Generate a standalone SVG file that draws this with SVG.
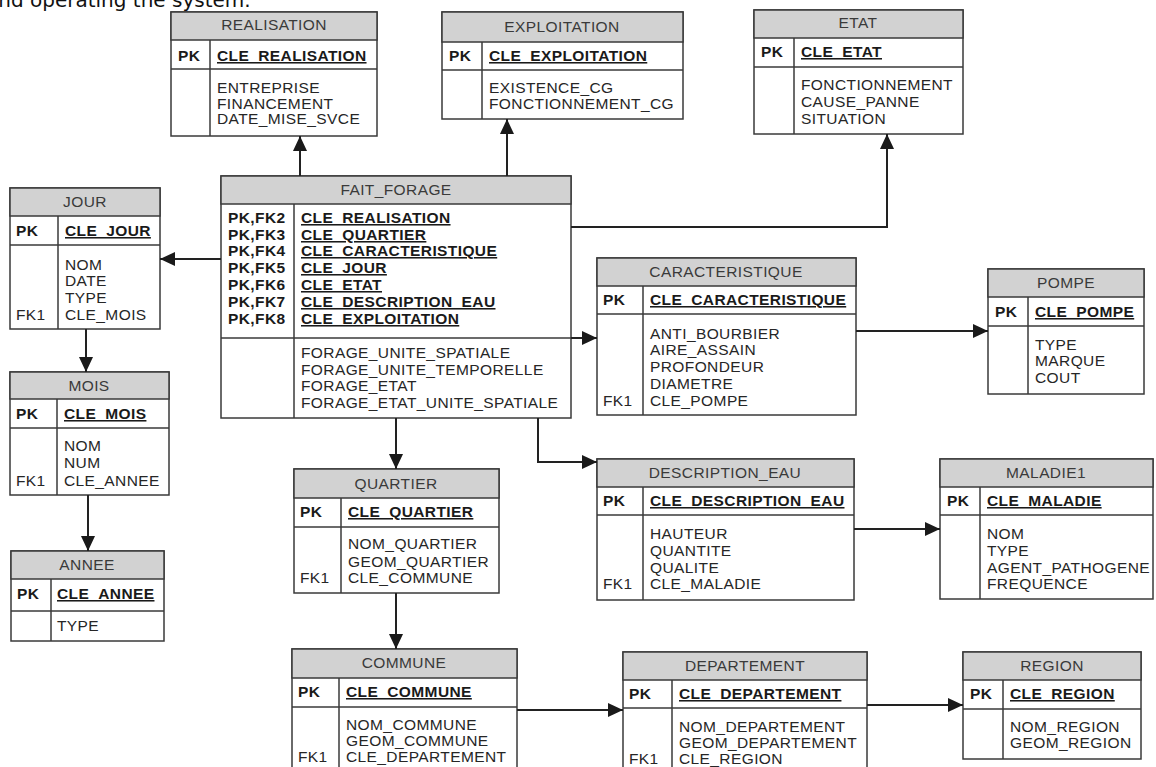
<svg xmlns="http://www.w3.org/2000/svg" width="1156" height="767" viewBox="0 0 1156 767">
<defs>
<style>
.box{fill:#fff;stroke:#3a3a3a;stroke-width:1.5}
.hdr{fill:#d2d2d2;stroke:#3a3a3a;stroke-width:1.5}
.sep{stroke:#3a3a3a;stroke-width:1.5}
.t{font-family:"Liberation Sans",Arial,sans-serif;font-size:15.5px;letter-spacing:0.4px;fill:#262626}
.h{font-family:"Liberation Sans",Arial,sans-serif;font-size:15.5px;letter-spacing:0.4px;fill:#3a3a3a;text-anchor:middle}
.k{font-family:"Liberation Sans",Arial,sans-serif;font-size:15.5px;letter-spacing:0.4px;fill:#1a1a1a;font-weight:bold}
.u{text-decoration:underline}
.c{fill:none;stroke:#222;stroke-width:2}
.top{font-family:"DejaVu Sans",sans-serif;font-size:20px;fill:#111}
</style>
<marker id="ah" markerUnits="userSpaceOnUse" markerWidth="16" markerHeight="16" refX="15" refY="7" orient="auto">
<path d="M0,0 L15,7 L0,14 z" fill="#1a1a1a"/>
</marker>
</defs>
<rect width="1156" height="767" fill="#fff"/>
<text class="top" x="-14" y="7">and operating the system.</text>

<g id="n-realisation">
<rect class="box" x="171" y="12" width="206" height="124"/>
<rect class="hdr" x="171" y="12" width="206" height="28"/>
<line class="sep" x1="171" y1="69" x2="377" y2="69"/>
<line class="sep" x1="210" y1="40" x2="210" y2="136"/>
<text class="h" x="274" y="30">REALISATION</text>
<text class="k" x="178" y="61">PK</text>
<text class="k u" x="217" y="61">CLE_REALISATION</text>
<text class="t"><tspan x="217" y="93">ENTREPRISE</tspan><tspan x="217" y="109">FINANCEMENT</tspan><tspan x="217" y="124">DATE_MISE_SVCE</tspan></text>
</g>

<g id="n-exploitation">
<rect class="box" x="442" y="12" width="241" height="107"/>
<rect class="hdr" x="442" y="12" width="241" height="30"/>
<line class="sep" x1="442" y1="70" x2="683" y2="70"/>
<line class="sep" x1="482" y1="42" x2="482" y2="119"/>
<text class="h" x="562" y="32">EXPLOITATION</text>
<text class="k" x="449" y="61">PK</text>
<text class="k u" x="489" y="61">CLE_EXPLOITATION</text>
<text class="t"><tspan x="489" y="93">EXISTENCE_CG</tspan><tspan x="489" y="109">FONCTIONNEMENT_CG</tspan></text>
</g>

<g id="n-etat">
<rect class="box" x="754" y="10" width="209" height="124"/>
<rect class="hdr" x="754" y="10" width="209" height="28"/>
<line class="sep" x1="754" y1="67" x2="963" y2="67"/>
<line class="sep" x1="794" y1="38" x2="794" y2="134"/>
<text class="h" x="858" y="28">ETAT</text>
<text class="k" x="761" y="57">PK</text>
<text class="k u" x="801" y="57">CLE_ETAT</text>
<text class="t"><tspan x="801" y="90">FONCTIONNEMENT</tspan><tspan x="801" y="107">CAUSE_PANNE</tspan><tspan x="801" y="124">SITUATION</tspan></text>
</g>

<g id="n-fait-forage">
<rect class="box" x="221" y="176" width="350" height="242"/>
<rect class="hdr" x="221" y="176" width="350" height="28"/>
<line class="sep" x1="221" y1="338" x2="571" y2="338"/>
<line class="sep" x1="294" y1="204" x2="294" y2="418"/>
<text class="h" x="396" y="195">FAIT_FORAGE</text>
<text class="k"><tspan x="228" y="223">PK,FK2</tspan><tspan x="228" y="240">PK,FK3</tspan><tspan x="228" y="256">PK,FK4</tspan><tspan x="228" y="273">PK,FK5</tspan><tspan x="228" y="290">PK,FK6</tspan><tspan x="228" y="307">PK,FK7</tspan><tspan x="228" y="324">PK,FK8</tspan></text>
<text class="k u"><tspan x="301" y="223">CLE_REALISATION</tspan><tspan x="301" y="240">CLE_QUARTIER</tspan><tspan x="301" y="256">CLE_CARACTERISTIQUE</tspan><tspan x="301" y="273">CLE_JOUR</tspan><tspan x="301" y="290">CLE_ETAT</tspan><tspan x="301" y="307">CLE_DESCRIPTION_EAU</tspan><tspan x="301" y="324">CLE_EXPLOITATION</tspan></text>
<text class="t"><tspan x="301" y="358">FORAGE_UNITE_SPATIALE</tspan><tspan x="301" y="375">FORAGE_UNITE_TEMPORELLE</tspan><tspan x="301" y="391">FORAGE_ETAT</tspan><tspan x="301" y="408">FORAGE_ETAT_UNITE_SPATIALE</tspan></text>
</g>

<g id="n-jour">
<rect class="box" x="10" y="188" width="150" height="141"/>
<rect class="hdr" x="10" y="188" width="150" height="28"/>
<line class="sep" x1="10" y1="245" x2="160" y2="245"/>
<line class="sep" x1="58" y1="216" x2="58" y2="329"/>
<text class="h" x="85" y="207">JOUR</text>
<text class="k" x="16" y="236">PK</text>
<text class="k u" x="65" y="236">CLE_JOUR</text>
<text class="t"><tspan x="65" y="270">NOM</tspan><tspan x="65" y="286">DATE</tspan><tspan x="65" y="303">TYPE</tspan><tspan x="65" y="320">CLE_MOIS</tspan></text>
<text class="t" x="16" y="320">FK1</text>
</g>

<g id="n-mois">
<rect class="box" x="10" y="372" width="159" height="123"/>
<rect class="hdr" x="10" y="372" width="159" height="27"/>
<line class="sep" x1="10" y1="428" x2="169" y2="428"/>
<line class="sep" x1="57" y1="399" x2="57" y2="495"/>
<text class="h" x="89" y="391">MOIS</text>
<text class="k" x="16" y="419">PK</text>
<text class="k u" x="64" y="419">CLE_MOIS</text>
<text class="t"><tspan x="64" y="451">NOM</tspan><tspan x="64" y="468">NUM</tspan><tspan x="64" y="486">CLE_ANNEE</tspan></text>
<text class="t" x="16" y="486">FK1</text>
</g>

<g id="n-annee">
<rect class="box" x="11" y="551" width="153" height="90"/>
<rect class="hdr" x="11" y="551" width="153" height="28"/>
<line class="sep" x1="11" y1="611" x2="164" y2="611"/>
<line class="sep" x1="51" y1="579" x2="51" y2="641"/>
<text class="h" x="87" y="570">ANNEE</text>
<text class="k" x="17" y="599">PK</text>
<text class="k u" x="57" y="599">CLE_ANNEE</text>
<text class="t" x="57" y="631">TYPE</text>
</g>

<g id="n-quartier">
<rect class="box" x="294" y="469" width="205" height="124"/>
<rect class="hdr" x="294" y="469" width="205" height="29"/>
<line class="sep" x1="294" y1="527" x2="499" y2="527"/>
<line class="sep" x1="341" y1="498" x2="341" y2="593"/>
<text class="h" x="396" y="489">QUARTIER</text>
<text class="k" x="300" y="517">PK</text>
<text class="k u" x="348" y="517">CLE_QUARTIER</text>
<text class="t"><tspan x="348" y="549">NOM_QUARTIER</tspan><tspan x="348" y="567">GEOM_QUARTIER</tspan><tspan x="348" y="583">CLE_COMMUNE</tspan></text>
<text class="t" x="300" y="583">FK1</text>
</g>

<g id="n-commune">
<rect class="box" x="292" y="649" width="225" height="130"/>
<rect class="hdr" x="292" y="649" width="225" height="29"/>
<line class="sep" x1="292" y1="707" x2="517" y2="707"/>
<line class="sep" x1="339" y1="678" x2="339" y2="779"/>
<text class="h" x="404" y="668">COMMUNE</text>
<text class="k" x="298" y="697">PK</text>
<text class="k u" x="346" y="697">CLE_COMMUNE</text>
<text class="t"><tspan x="346" y="730">NOM_COMMUNE</tspan><tspan x="346" y="746">GEOM_COMMUNE</tspan><tspan x="346" y="762">CLE_DEPARTEMENT</tspan></text>
<text class="t" x="298" y="762">FK1</text>
</g>

<g id="n-departement">
<rect class="box" x="623" y="652" width="244" height="130"/>
<rect class="hdr" x="623" y="652" width="244" height="28"/>
<line class="sep" x1="623" y1="708" x2="867" y2="708"/>
<line class="sep" x1="672" y1="680" x2="672" y2="782"/>
<text class="h" x="745" y="671">DEPARTEMENT</text>
<text class="k" x="629" y="699">PK</text>
<text class="k u" x="679" y="699">CLE_DEPARTEMENT</text>
<text class="t"><tspan x="679" y="732">NOM_DEPARTEMENT</tspan><tspan x="679" y="748">GEOM_DEPARTEMENT</tspan><tspan x="679" y="764">CLE_REGION</tspan></text>
<text class="t" x="629" y="764">FK1</text>
</g>

<g id="n-region">
<rect class="box" x="963" y="652" width="178" height="107"/>
<rect class="hdr" x="963" y="652" width="178" height="28"/>
<line class="sep" x1="963" y1="709" x2="1141" y2="709"/>
<line class="sep" x1="1003" y1="680" x2="1003" y2="759"/>
<text class="h" x="1052" y="671">REGION</text>
<text class="k" x="970" y="699">PK</text>
<text class="k u" x="1010" y="699">CLE_REGION</text>
<text class="t"><tspan x="1010" y="732">NOM_REGION</tspan><tspan x="1010" y="748">GEOM_REGION</tspan></text>
</g>

<g id="n-caracteristique">
<rect class="box" x="597" y="258" width="259" height="157"/>
<rect class="hdr" x="597" y="258" width="259" height="28"/>
<line class="sep" x1="597" y1="314" x2="856" y2="314"/>
<line class="sep" x1="643" y1="286" x2="643" y2="415"/>
<text class="h" x="726" y="277">CARACTERISTIQUE</text>
<text class="k" x="603" y="305">PK</text>
<text class="k u" x="650" y="305">CLE_CARACTERISTIQUE</text>
<text class="t"><tspan x="650" y="339">ANTI_BOURBIER</tspan><tspan x="650" y="355">AIRE_ASSAIN</tspan><tspan x="650" y="372">PROFONDEUR</tspan><tspan x="650" y="389">DIAMETRE</tspan><tspan x="650" y="406">CLE_POMPE</tspan></text>
<text class="t" x="603" y="406">FK1</text>
</g>

<g id="n-pompe">
<rect class="box" x="988" y="269" width="156" height="125"/>
<rect class="hdr" x="988" y="269" width="156" height="28"/>
<line class="sep" x1="988" y1="326" x2="1144" y2="326"/>
<line class="sep" x1="1028" y1="297" x2="1028" y2="394"/>
<text class="h" x="1066" y="288">POMPE</text>
<text class="k" x="995" y="317">PK</text>
<text class="k u" x="1035" y="317">CLE_POMPE</text>
<text class="t"><tspan x="1035" y="350">TYPE</tspan><tspan x="1035" y="366">MARQUE</tspan><tspan x="1035" y="383">COUT</tspan></text>
</g>

<g id="n-description-eau">
<rect class="box" x="597" y="459" width="257" height="141"/>
<rect class="hdr" x="597" y="459" width="257" height="28"/>
<line class="sep" x1="597" y1="515" x2="854" y2="515"/>
<line class="sep" x1="643" y1="487" x2="643" y2="600"/>
<text class="h" x="725" y="478">DESCRIPTION_EAU</text>
<text class="k" x="603" y="506">PK</text>
<text class="k u" x="650" y="506">CLE_DESCRIPTION_EAU</text>
<text class="t"><tspan x="650" y="539">HAUTEUR</tspan><tspan x="650" y="556">QUANTITE</tspan><tspan x="650" y="573">QUALITE</tspan><tspan x="650" y="589">CLE_MALADIE</tspan></text>
<text class="t" x="603" y="589">FK1</text>
</g>

<g id="n-maladie1">
<rect class="box" x="940" y="459" width="213" height="140"/>
<rect class="hdr" x="940" y="459" width="213" height="28"/>
<line class="sep" x1="940" y1="515" x2="1153" y2="515"/>
<line class="sep" x1="980" y1="487" x2="980" y2="599"/>
<text class="h" x="1046" y="478">MALADIE1</text>
<text class="k" x="947" y="506">PK</text>
<text class="k u" x="987" y="506">CLE_MALADIE</text>
<text class="t"><tspan x="987" y="539">NOM</tspan><tspan x="987" y="556">TYPE</tspan><tspan x="987" y="573">AGENT_PATHOGENE</tspan><tspan x="987" y="589">FREQUENCE</tspan></text>
</g>

<g id="connectors">
<path class="c" d="M300,176 V136" marker-end="url(#ah)"/>
<path class="c" d="M507,176 V119" marker-end="url(#ah)"/>
<path class="c" d="M571,227 H887 V134" marker-end="url(#ah)"/>
<path class="c" d="M221,259 H160" marker-end="url(#ah)"/>
<path class="c" d="M86,329 V372" marker-end="url(#ah)"/>
<path class="c" d="M88,495 V551" marker-end="url(#ah)"/>
<path class="c" d="M396,418 V469" marker-end="url(#ah)"/>
<path class="c" d="M396,593 V649" marker-end="url(#ah)"/>
<path class="c" d="M571,338 H597" marker-end="url(#ah)"/>
<path class="c" d="M856,331 H988" marker-end="url(#ah)"/>
<path class="c" d="M538,418 V462 H597" marker-end="url(#ah)"/>
<path class="c" d="M854,529 H940" marker-end="url(#ah)"/>
<path class="c" d="M517,710 H623" marker-end="url(#ah)"/>
<path class="c" d="M867,705 H963" marker-end="url(#ah)"/>
</g>
</svg>
